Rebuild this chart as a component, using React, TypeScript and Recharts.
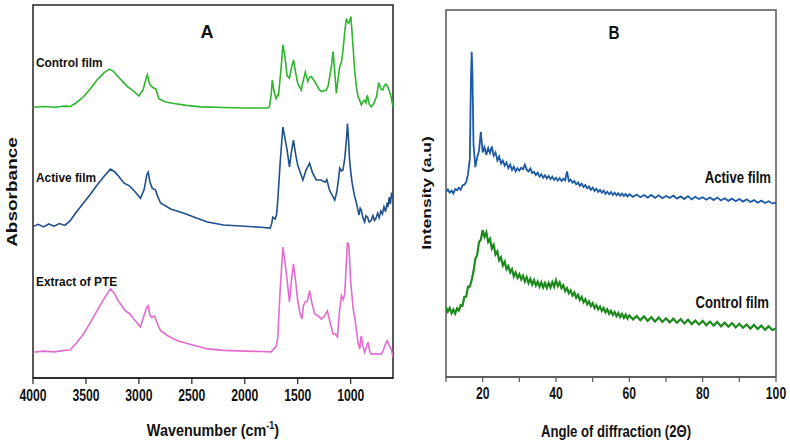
// FTIR (A) + XRD (B) comparison panels
import React from 'react';
import { LineChart, Line, XAxis, YAxis, ReferenceArea } from 'recharts';

/* ------------------------- data ----------------------------------------- */
// FTIR spectra: [wavenumber, absorbance (offset, arbitrary units)]
const controlFtir: [number, number][] = [
  [4000, 72.6], [3900, 72.8], [3800, 72.6], [3700, 72.9], [3650, 72.8], [3600, 73.6],
  [3523, 75.4], [3460, 77.5], [3396, 79.9], [3330, 81.8], [3280, 82.8], [3240, 82.2],
  [3200, 80.9], [3150, 79.4], [3111, 78.2], [3050, 76.9], [3001, 75.6], [2960, 77.3],
  [2930, 80.5], [2920, 81.3], [2905, 79.5], [2895, 78.6], [2865, 77.8], [2840, 77.5],
  [2811, 74.9], [2750, 74.0], [2669, 73.6], [2550, 73.1], [2416, 72.7], [2200, 72.5],
  [2000, 72.4], [1783, 72.4], [1767, 72.7], [1750, 76], [1740, 79.9], [1725, 77],
  [1704, 74.9], [1690, 75.8], [1682, 75.7], [1660, 82], [1640, 89.3], [1620, 86],
  [1600, 81], [1578, 80.4], [1560, 83], [1540, 85.3], [1520, 82], [1500, 79],
  [1467, 77.2], [1450, 79.5], [1429, 82.0], [1404, 79.5], [1390, 80.5], [1372, 80.8],
  [1340, 79.5], [1300, 77.5], [1277, 76.8], [1230, 77.2], [1210, 78.5], [1198, 80.8],
  [1180, 84], [1166, 87.5], [1150, 82], [1135, 76.3], [1120, 80], [1103, 83.5],
  [1085, 85], [1072, 87.9], [1055, 93], [1040, 96.4], [1030, 95.5], [1017, 95.1],
  [1008, 96], [998, 96.9], [985, 92], [961, 82.1], [945, 78], [930, 75.4],
  [915, 74.5], [899, 73.2], [885, 74], [868, 74.5], [855, 73.8], [843, 75.8],
  [825, 73.5], [806, 72.7], [790, 73.2], [774, 74.1], [755, 75.5], [735, 79.2],
  [715, 77.5], [697, 77.2], [680, 78.5], [666, 78.8], [645, 77.8], [630, 76.5],
  [618, 75.4], [600, 72.7],
];

const activeFtir: [number, number][] = [
  [4000, 40.6], [3950, 41.2], [3900, 40.5], [3850, 41.3], [3800, 40.7], [3750, 41.4],
  [3700, 40.9], [3650, 42.1], [3590, 44.5], [3523, 46.9], [3460, 49.2], [3396, 51.7],
  [3330, 54], [3269, 56.0], [3230, 55.3], [3200, 54.4], [3142, 52.3], [3090, 51.5],
  [3050, 50.4], [2985, 48.2], [2950, 50.5], [2925, 54.5], [2912, 55.2], [2895, 52.5],
  [2874, 50.9], [2843, 50.4], [2820, 48.5], [2795, 46.9], [2700, 45.3], [2574, 44.2],
  [2450, 42.8], [2353, 41.8], [2200, 41.0], [2000, 40.7], [1850, 40.4], [1760, 40.2],
  [1745, 41.5], [1736, 43.1], [1715, 42.6], [1700, 43.7], [1688, 47.7], [1665, 58],
  [1640, 67.3], [1625, 65], [1600, 61.1], [1578, 56.6], [1560, 60.5], [1540, 63.8],
  [1520, 60], [1500, 57.1], [1475, 55], [1451, 53.1], [1420, 55.8], [1388, 57.6],
  [1360, 55], [1325, 53.1], [1280, 53.1], [1240, 52.5], [1225, 53.2], [1200, 50.4],
  [1175, 49], [1150, 47.7], [1130, 50], [1110, 54.4], [1103, 56.3], [1085, 55.5],
  [1072, 55.8], [1055, 59], [1040, 63.8], [1030, 68.2], [1020, 64], [1010, 58.4],
  [998, 55], [986, 52.3], [965, 49], [945, 46.9], [930, 44.8], [920, 43.7],
  [910, 45.5], [899, 45.0], [885, 43], [868, 41.8], [855, 43.5], [840, 43.1],
  [825, 41.8], [806, 42.3], [790, 43.5], [775, 42.2], [760, 42.9], [745, 44.2],
  [730, 43.0], [715, 44.8], [700, 44.0], [685, 45.9], [670, 44.6], [655, 47.0],
  [648, 45.8], [635, 48.5], [625, 46.6], [615, 49.2], [600, 48.2],
];

const extractFtir: [number, number][] = [
  [4000, 6.9], [3900, 7.2], [3800, 7.0], [3700, 7.4], [3649, 7.5], [3590, 9.4],
  [3523, 11.8], [3460, 14.8], [3396, 18.0], [3330, 21.2], [3269, 23.9], [3230, 22.6],
  [3200, 20.9], [3160, 19.3], [3127, 18.0], [3090, 17.3], [3048, 15.8], [2985, 13.7],
  [2950, 16.9], [2925, 19.0], [2912, 19.4], [2895, 16.8], [2880, 16.3], [2852, 16.6],
  [2820, 14.2], [2795, 12.7], [2720, 11.2], [2637, 10.0], [2500, 8.9], [2353, 7.8],
  [2200, 7.4], [2000, 7.2], [1850, 7.1], [1751, 7.0], [1720, 8.0], [1700, 8.6],
  [1688, 11.0], [1665, 24], [1640, 35.1], [1620, 31], [1600, 26.3], [1578, 20.4],
  [1560, 26], [1540, 30.6], [1520, 26], [1500, 20.9], [1480, 17.5], [1461, 15.8],
  [1445, 19.5], [1429, 20.4], [1410, 20.6], [1388, 23.4], [1365, 20], [1340, 17.2],
  [1300, 16.5], [1277, 15.8], [1250, 16.5], [1220, 18.0], [1195, 15], [1166, 11.8],
  [1145, 11.8], [1125, 11.0], [1105, 18], [1087, 22.1], [1070, 21], [1056, 22.5],
  [1042, 30], [1030, 36.4], [1017, 35.6], [1000, 26], [976, 18.5], [960, 16],
  [945, 12.7], [930, 9.5], [914, 7.8], [905, 10.5], [899, 11.3], [885, 8.6],
  [868, 6.9], [852, 8.2], [836, 9.6], [820, 7.2], [806, 6.4], [760, 6.5],
  [711, 6.4], [690, 7.5], [670, 9.2], [654, 10.0], [635, 8.6], [618, 7.8], [600, 5.6],
];

const ftirTicks = [4000, 3500, 3000, 2500, 2000, 1500, 1000];

// XRD patterns: [2θ, intensity (offset, arbitrary units)]
const activeXrd: [number, number][] = [
  [10, 50.4], [10.5, 51.1], [11, 50.2], [11.5, 50.8], [12, 50.0], [12.5, 51.2], [13, 50.9], [13.5, 51.6],
  [14, 51.0], [14.5, 52.2], [15, 52.4], [15.5, 53.1], [16, 55.2], [16.5, 59.5], [16.8, 81.0], [17, 88.6],
  [17.2, 83.0], [17.5, 63.5], [18, 57.2], [18.5, 59.8], [19, 61.6], [19.5, 66.8], [20, 61.2], [20.5, 62.6],
  [21, 60.5], [21.5, 62.4], [22, 61.0], [22.5, 62.8], [23, 60.3], [23.5, 61.2], [24, 59.0], [24.5, 60.1],
  [25, 58.2], [25.5, 59.0], [26, 57.6], [26.5, 58.4], [27, 56.9], [27.5, 57.9], [28, 56.4], [28.5, 57.3],
  [29, 56.0], [29.5, 56.9], [30, 56.2], [30.5, 57.0], [31, 56.6], [31.5, 57.9], [32, 56.5], [32.5, 56.0],
  [33, 56.8], [33.5, 55.6], [34, 55.9], [34.5, 55.0], [35, 55.7], [35.5, 54.6], [36, 55.2], [36.5, 54.3],
  [37, 55.0], [37.5, 54.1], [38, 54.8], [38.5, 53.9], [39, 54.6], [39.5, 53.7], [40, 54.3], [40.5, 53.5],
  [41, 54.2], [41.5, 53.4], [42, 54.0], [42.5, 53.6], [43, 56.0], [43.5, 53.4], [44, 53.8], [44.5, 52.9],
  [45, 53.4], [45.5, 52.5], [46, 53.0], [46.5, 52.1], [47, 52.7], [47.5, 51.8], [48, 52.3], [48.5, 51.4],
  [49, 51.9], [49.5, 51.0], [50, 51.6], [50.5, 50.7], [51, 51.3], [51.5, 50.4], [52, 51.0], [52.5, 50.2],
  [53, 50.8], [53.5, 49.9], [54, 50.5], [54.5, 49.8], [55, 50.4], [55.5, 49.6], [56, 50.2], [56.5, 49.5],
  [57, 50.1], [57.5, 49.4], [58, 50.0], [58.5, 49.3], [59, 49.9], [59.5, 49.2], [60, 49.8],
  [61, 49.1], [62, 49.7], [63, 49.0], [64, 49.6], [65, 48.9], [66, 49.6], [67, 48.8], [68, 49.5],
  [69, 48.7], [70, 49.3], [71, 48.8], [72, 49.4], [73, 48.6], [74, 49.2], [75, 48.5], [76, 49.3],
  [77, 48.4], [78, 49.1], [79, 48.5], [80, 49.0], [81, 48.3], [82, 48.9], [83, 48.2], [84, 48.9],
  [85, 48.1], [86, 48.7], [87, 48.0], [88, 48.6], [89, 47.9], [90, 48.5], [91, 47.8], [92, 48.4],
  [93, 47.7], [94, 48.2], [95, 47.5], [96, 48.1], [97, 47.4], [98, 47.9], [99, 47.3], [100, 47.5],
];

const controlXrd: [number, number][] = [
  [10, 19.0], [10.5, 17.8], [11, 18.8], [11.5, 17.4], [12, 18.4], [12.5, 17.3], [13, 18.7], [13.5, 18.1],
  [14, 19.6], [14.5, 19.4], [15, 21.8], [15.5, 21.9], [16, 24.6], [16.5, 24.6], [17, 26.4], [17.5, 28.8],
  [18, 32.2], [18.5, 33.2], [19, 36.8], [19.5, 37.4], [20, 40.0], [20.5, 38.2], [21, 39.4], [21.5, 36.8],
  [22, 37.6], [22.5, 35.0], [23, 36.0], [23.5, 33.4], [24, 34.2], [24.5, 31.8], [25, 32.6], [25.5, 30.4],
  [26, 31.4], [26.5, 29.4], [27, 30.2], [27.5, 28.5], [28, 29.4], [28.5, 27.4], [29, 28.5], [29.5, 27.0],
  [30, 28.0], [30.5, 26.6], [31, 27.6], [31.5, 26.0], [32, 27.2], [32.5, 25.6], [33, 26.7], [33.5, 25.2],
  [34, 26.4], [34.5, 24.9], [35, 26.0], [35.5, 24.6], [36, 25.8], [36.5, 24.4], [37, 25.6], [37.5, 24.3],
  [38, 25.6], [38.5, 24.4], [39, 25.9], [39.5, 24.6], [40, 26.4], [40.5, 24.8], [41, 25.8], [41.5, 24.2],
  [42, 25.0], [42.5, 23.4], [43, 24.2], [43.5, 22.8], [44, 23.6], [44.5, 22.2], [45, 23.0], [45.5, 21.6],
  [46, 22.4], [46.5, 21.0], [47, 21.8], [47.5, 20.4], [48, 21.2], [48.5, 19.8], [49, 20.6], [49.5, 19.3],
  [50, 20.1], [50.5, 18.8], [51, 19.6], [51.5, 18.4], [52, 19.2], [52.5, 18.0], [53, 18.8], [53.5, 17.6],
  [54, 18.4], [54.5, 17.2], [55, 18.0], [55.5, 16.9], [56, 17.7], [56.5, 16.6], [57, 17.4], [57.5, 16.3],
  [58, 17.2], [58.5, 16.1], [59, 17.0], [59.5, 15.9], [60, 16.8],
  [61, 15.7], [62, 16.6], [63, 15.5], [64, 16.5], [65, 15.3], [66, 16.3], [67, 15.1], [68, 16.2],
  [69, 15.0], [70, 16.0], [71, 14.9], [72, 15.9], [73, 14.8], [74, 15.8], [75, 14.6], [76, 15.6],
  [77, 14.4], [78, 15.4], [79, 14.3], [80, 15.3], [81, 14.1], [82, 15.1], [83, 14.0], [84, 15.0],
  [85, 13.8], [86, 14.8], [87, 13.7], [88, 14.7], [89, 13.5], [90, 14.5], [91, 13.4], [92, 14.3],
  [93, 13.2], [94, 14.2], [95, 13.1], [96, 14.0], [97, 12.9], [98, 13.8], [99, 12.8], [100, 13.2],
];

const xrdTicks = [10, 20, 30, 40, 50, 60, 70, 80, 90, 100];

/* ------------------------- helpers -------------------------------------- */
const FONT = '"Liberation Sans", Arial, sans-serif';
const toRows = (pairs: [number, number][]) => pairs.map(([x, y]) => ({ x, y }));

// horizontally squeezed bold tick label (source figure is compressed sideways)
const squeezedTick = (labelled: (v: number) => boolean) => (props: any) => {
  const { x, y, payload } = props;
  if (!labelled(payload.value)) return <g />;
  return (
    <g transform={`translate(${x},${y}) scale(0.76,1)`}>
      <text x={0} y={0} dy={15} textAnchor="middle" fontSize={16} fontWeight="bold" fontFamily={FONT} fill="#111">
        {payload.value}
      </text>
    </g>
  );
};

const Txt = ({ x, y, size, sx = 1, anchor = 'start', rotate = false, children }: any) => (
  <g transform={`translate(${x},${y}) scale(${sx},1)${rotate ? ' rotate(-90)' : ''}`}>
    <text textAnchor={anchor} fontSize={size} fontWeight="bold" fontFamily={FONT} fill="#111">
      {children}
    </text>
  </g>
);

/* ------------------------- component ------------------------------------ */
export default function App() {
  return (
    <div style={{ position: 'absolute', left: 0, top: 0, width: 790, height: 448, background: '#fff' }}>
      {/* Panel A – FTIR */}
      <div style={{ position: 'absolute', left: 0, top: 0 }}>
        <LineChart width={400} height={448} margin={{ top: 5, right: 7, bottom: 0, left: 33 }}>
          <XAxis
            type="number"
            dataKey="x"
            domain={[600, 4000]}
            reversed
            allowDataOverflow
            ticks={ftirTicks}
            interval={0}
            height={70}
            tickSize={6}
            axisLine={{ stroke: '#222', strokeWidth: 1.5 }}
            tickLine={{ stroke: '#222', strokeWidth: 1.2 }}
            tick={squeezedTick(() => true)}
          />
          <YAxis type="number" domain={[0, 100]} hide />
          <ReferenceArea x1={600} x2={4000} y1={0} y2={100} fill="none" stroke="#222" strokeWidth={1.5} strokeOpacity={1} ifOverflow="visible" />
          <Line data={toRows(controlFtir)} dataKey="y" stroke="#2eb52e" strokeWidth={1.6} dot={false} isAnimationActive={false} />
          <Line data={toRows(activeFtir)} dataKey="y" stroke="#1f4f8c" strokeWidth={1.6} dot={false} isAnimationActive={false} />
          <Line data={toRows(extractFtir)} dataKey="y" stroke="#e26bd0" strokeWidth={1.6} dot={false} isAnimationActive={false} />
        </LineChart>
      </div>

      {/* Panel B – XRD */}
      <div style={{ position: 'absolute', left: 400, top: 0 }}>
        <LineChart width={390} height={448} margin={{ top: 10, right: 14, bottom: 0, left: 46 }}>
          <XAxis
            type="number"
            dataKey="x"
            domain={[10, 100]}
            allowDataOverflow
            ticks={xrdTicks}
            interval={0}
            height={71}
            tickSize={5}
            axisLine={{ stroke: '#555', strokeWidth: 1.5 }}
            tickLine={{ stroke: '#555', strokeWidth: 1.2 }}
            tick={squeezedTick((v) => v % 20 === 0)}
          />
          <YAxis type="number" domain={[0, 100]} hide />
          <ReferenceArea x1={10} x2={100} y1={0} y2={100} fill="none" stroke="#555" strokeWidth={1.5} strokeOpacity={1} ifOverflow="visible" />
          <Line data={toRows(activeXrd)} dataKey="y" stroke="#1d5aa6" strokeWidth={1.8} dot={false} isAnimationActive={false} />
          <Line data={toRows(controlXrd)} dataKey="y" stroke="#1d8a1d" strokeWidth={2.2} dot={false} isAnimationActive={false} />
        </LineChart>
      </div>

      {/* titles and annotations */}
      <svg width={790} height={448} style={{ position: 'absolute', left: 0, top: 0, pointerEvents: 'none' }}>
        <Txt x={207} y={38} size={18} anchor="middle">A</Txt>
        <Txt x={614} y={39} size={18} anchor="middle" sx={0.85}>B</Txt>

        <Txt x={36} y={67} size={13.5} sx={0.88}>Control film</Txt>
        <Txt x={36} y={182} size={13.5} sx={0.88}>Active film</Txt>
        <Txt x={36} y={286} size={13.5} sx={0.88}>Extract of PTE</Txt>

        <Txt x={771} y={183} size={16} sx={0.82} anchor="end">Active film</Txt>
        <Txt x={769} y={308} size={16} sx={0.82} anchor="end">Control film</Txt>

        <Txt x={17} y={192} size={19} sx={0.75} anchor="middle" rotate>Absorbance</Txt>
        <Txt x={431} y={193} size={17.5} sx={0.75} anchor="middle" rotate>Intensity (a.u)</Txt>

        <Txt x={213} y={436} size={16} sx={0.9} anchor="middle">
          Wavenumber (cm<tspan fontSize={10} dy={-7}>-1</tspan><tspan dy={7}>)</tspan>
        </Txt>
        <Txt x={616} y={437} size={16} sx={0.82} anchor="middle">Angle of diffraction (2Θ)</Txt>
      </svg>
    </div>
  );
}
